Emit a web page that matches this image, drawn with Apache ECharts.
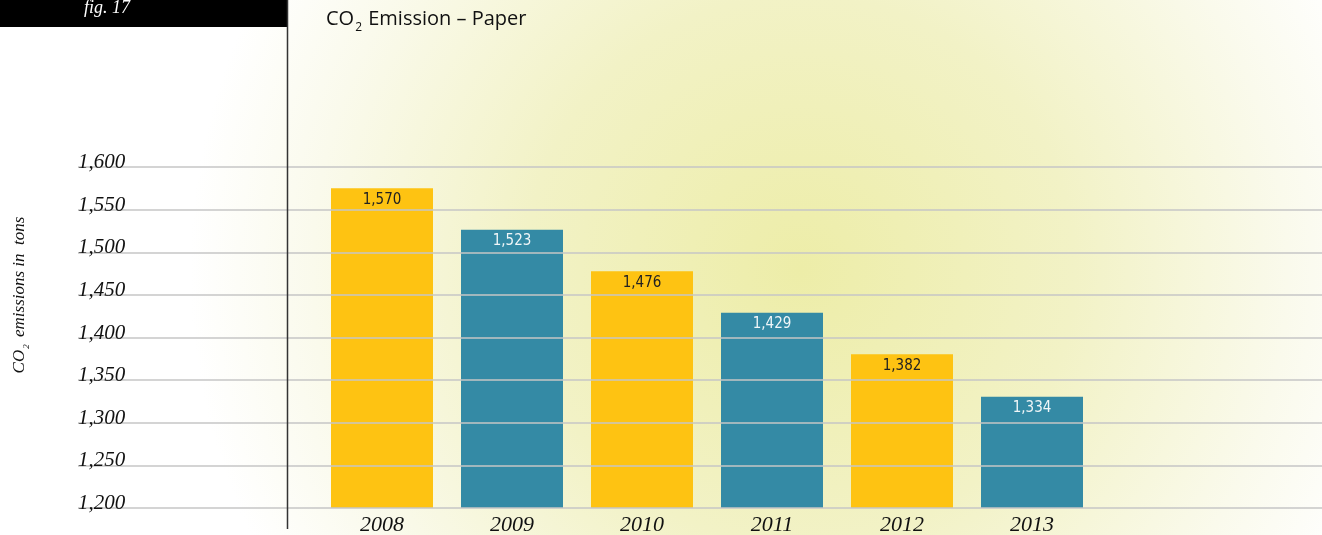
<!DOCTYPE html>
<html>
<head>
<meta charset="utf-8">
<script src="https://cdn.jsdelivr.net/npm/echarts@6/dist/echarts.min.js"></script>
<style>
  html, body { margin: 0; padding: 0; background: #fff; }
  #chart { width: 1322px; height: 535px; }
</style>
</head>
<body>
<div id="chart"></div>
<script>
// data
const years = ['2008', '2009', '2010', '2011', '2012', '2013']
const emissions = [1570, 1523, 1476, 1429, 1382, 1334]
const barColors = ['#fec312', '#348aa5', '#fec312', '#348aa5', '#fec312', '#348aa5']
const labelColors = ['#222', '#f0f6f8', '#222', '#f0f6f8', '#222', '#f0f6f8']
const yMin = 1200, yMax = 1600, yStep = 50
// the bars in the original are not drawn on the gridline scale, own hidden axis
const barMin = 1208, barMax = 1594

const serif = '"Liberation Serif", "DejaVu Serif", serif'
const narrow = '"Liberation Sans Narrow", "DejaVu Sans Condensed", sans-serif'

let myChart = echarts.init(document.getElementById('chart'))

let option = {
  animation: false,
  backgroundColor: '#fff',
  graphic: [
    {
      type: 'rect', z: -10, silent: true,
      shape: {x: 0, y: 0, width: 1322, height: 535},
      style: {
        fill: new echarts.graphic.RadialGradient(800, 270, 610, [
          {offset: 0, color: '#ededa8'},
          {offset: 0.45, color: '#f2f2c6'},
          {offset: 0.8, color: '#fafaec'},
          {offset: 1, color: '#ffffff'}
        ], true)
      }
    },
    {
      type: 'rect', z: 50,
      shape: {x: 0, y: 0, width: 287, height: 27},
      style: {fill: '#000'}
    },
    {
      type: 'text', z: 51, x: 107, y: 8,
      style: {
        text: 'fig. 17', fill: '#fff', font: 'italic 18px ' + serif,
        align: 'center', verticalAlign: 'middle'
      }
    },
    {
      type: 'line', z: 50,
      shape: {x1: 287.5, y1: 0, x2: 287.5, y2: 529},
      style: {stroke: '#333', lineWidth: 1.5}
    },
    {
      type: 'text', z: 51, x: 326, y: 19,
      style: {
        text: 'CO{sub|2} Emission – Paper',
        fill: '#111', font: '20px "Open Sans", sans-serif',
        verticalAlign: 'middle',
        rich: {
          sub: {fontSize: 12, fontFamily: '"Open Sans", sans-serif', fill: '#111', padding: [18, 1, 0, 1]}
        }
      }
    },
    {
      type: 'text', z: 51, x: 20, y: 295, rotation: Math.PI / 2,
      style: {
        text: 'CO{sub|2} emissions in  tons',
        fill: '#111', font: 'italic 17px ' + serif,
        align: 'center', verticalAlign: 'middle',
        rich: {
          sub: {fontSize: 9, fontStyle: 'italic', fontFamily: serif, fill: '#111', padding: [14, 3, 0, 1]}
        }
      }
    }
  ],
  grid: [
    {left: 78, right: 0, top: 167, bottom: 27, outerBoundsMode: 'none'},
    {left: 317, width: 780, top: 167, bottom: 27, outerBoundsMode: 'none'}
  ],
  xAxis: [
    {gridIndex: 0, type: 'value', show: false, min: 0, max: 1},
    {
      gridIndex: 1,
      type: 'category',
      data: years,
      axisLine: {show: false},
      axisTick: {show: false},
      axisLabel: {
        margin: 6,
        fontFamily: serif, fontStyle: 'italic', fontSize: 22, color: '#111'
      }
    }
  ],
  yAxis: [
    {
      gridIndex: 0,
      type: 'value',
      min: yMin, max: yMax, interval: yStep,
      z: 5,
      axisLine: {show: false},
      axisTick: {show: false},
      axisLabel: {
        inside: true,
        margin: 0,
        verticalAlign: 'bottom',
        padding: [0, 0, -6, 0],
        fontFamily: serif, fontStyle: 'italic', fontSize: 21, color: '#111',
        formatter: v => v.toLocaleString('en-US')
      },
      splitLine: {lineStyle: {color: '#c6c6c6', width: 1.5}}
    },
    {
      gridIndex: 1,
      type: 'value',
      min: barMin, max: barMax,
      show: false,
      splitLine: {show: false}
    }
  ],
  series: [
    {
      type: 'bar',
      xAxisIndex: 1,
      yAxisIndex: 1,
      barWidth: 102,
      data: emissions.map((v, i) => ({
        value: v,
        itemStyle: {color: barColors[i]},
        label: {color: labelColors[i]}
      })),
      label: {
        show: true,
        position: 'insideTop',
        distance: 4,
        fontFamily: narrow, fontSize: 15,
        formatter: p => p.value.toLocaleString('en-US')
      }
    }
  ]
}

myChart.setOption(option)
</script>
</body>
</html>
